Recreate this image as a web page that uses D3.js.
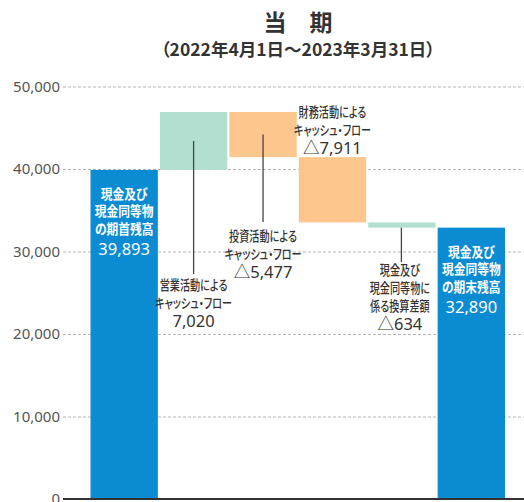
<!DOCTYPE html>
<html>
<head>
<meta charset="utf-8">
<script src="https://cdn.jsdelivr.net/npm/d3@7"></script>
<style>
  body { margin: 0; background: #fff; }
  svg { display: block; font-family: "Noto Sans CJK JP", "Noto Sans", sans-serif; }
</style>
</head>
<body>
<div id="chart"></div>
<script>
// dades
const categories = ["期首残高", "営業活動", "投資活動", "財務活動", "換算差額", "期末残高"];
const values = [39893, 7020, -5477, -7911, -634, 32890];
const valueLabels = ["39,893", "7,020", "△5,477", "△7,911", "△634", "32,890"];
const barLabels = [
  ["現金及び", "現金同等物", "の期首残高"],
  ["営業活動による", "キャッシュ・フロー"],
  ["投資活動による", "キャッシュ・フロー"],
  ["財務活動による", "キャッシュ・フロー"],
  ["現金及び", "現金同等物に", "係る換算差額"],
  ["現金及び", "現金同等物", "の期末残高"]
];
const kinds = ["total", "delta", "delta", "delta", "delta", "total"];
const yTicks = [0, 10000, 20000, 30000, 40000, 50000];

const W = 524, H = 502;
const colors = { total: "#0a8bd2", up: "#b3dfd0", down: "#fcc68c" };

const svg = d3.select("#chart").append("svg")
  .attr("width", W).attr("height", H);

// escales
const y = d3.scaleLinear().domain([0, 50000]).range([499, 86.5]);
const x = d3.scaleBand().domain(categories).range([90.5, 505]).paddingInner(0.03).paddingOuter(0);

// cascada: inici i final de cada barra
let running = 0;
const bars = categories.map((c, i) => {
  let y0, y1;
  if (kinds[i] === "total") { y0 = 0; y1 = values[i]; running = values[i]; }
  else { y0 = running; y1 = running + values[i]; running = y1; }
  return { cat: c, i: i, y0: y0, y1: y1, v: values[i], kind: kinds[i] };
});

// títol
svg.append("text")
  .attr("x", 298).attr("y", 31)
  .attr("text-anchor", "middle")
  .style("font-size", "23px").style("font-weight", "700").style("fill", "#333")
  .text("当　期");
svg.append("text")
  .attr("x", 298).attr("y", 56)
  .attr("text-anchor", "middle")
  .style("font-size", "17.5px").style("font-weight", "700").style("fill", "#333")
  .style("font-feature-settings", "'palt'")
  .text("（2022年4月1日～2023年3月31日）");

// eix Y amb línies de graella
const axisX = 63;
const yAxis = svg.append("g")
  .attr("transform", `translate(${axisX},0)`)
  .call(d3.axisLeft(y).tickValues(yTicks).tickFormat(d3.format(",")).tickSize(-(W - axisX)).tickPadding(3));
yAxis.select(".domain").remove();
yAxis.selectAll(".tick line")
  .attr("stroke", "#b5b5b5")
  .attr("stroke-dasharray", "3,2");
yAxis.selectAll(".tick text")
  .style("font-family", "'Noto Sans', sans-serif")
  .style("font-size", "15px")
  .style("fill", "#555");

// barres
svg.selectAll(".bar")
  .data(bars)
  .enter()
  .append("rect")
    .attr("class", "bar")
    .attr("x", d => x(d.cat))
    .attr("width", x.bandwidth())
    .attr("y", d => y(Math.max(d.y0, d.y1)))
    .attr("height", d => Math.abs(y(d.y0) - y(d.y1)))
    .attr("fill", d => d.kind === "total" ? colors.total : (d.v > 0 || d.i === 4 ? colors.up : colors.down));

// línia base
svg.append("line")
  .attr("x1", axisX).attr("x2", W)
  .attr("y1", y(0)).attr("y2", y(0))
  .attr("stroke", "#333").attr("stroke-width", 2);

// etiquetes (text condensat com a l'original)
function label(lines, num, cx, baseY, fill, inBar) {
  const g = svg.append("g").style("fill", fill);
  const step = inBar ? 17.5 : 18;
  lines.forEach((t, k) => {
    const txt = g.append("text")
      .attr("x", cx).attr("y", baseY + k * step)
      .attr("text-anchor", "middle")
      .style("font-size", "13.5px")
      .style("font-weight", inBar ? "700" : "500")
      .style("font-feature-settings", "'palt'")
      .text(t);
    const w = txt.node().getComputedTextLength();
    txt.attr("textLength", w * (inBar ? 0.87 : 0.75)).attr("lengthAdjust", "spacingAndGlyphs");
  });
  g.append("text")
    .attr("x", cx).attr("y", baseY + (lines.length - 1) * step + (inBar ? 21 : 18.5))
    .attr("text-anchor", "middle")
    .style("font-family", "'Noto Sans', 'Noto Sans CJK JP', sans-serif")
    .style("font-size", "16.5px")
    .style("font-weight", "400")
    .text(num);
}

function leader(cx, yA, yB) {
  svg.append("line")
    .attr("x1", cx).attr("x2", cx)
    .attr("y1", yA).attr("y2", yB)
    .attr("stroke", "#444").attr("stroke-width", 1.3);
}

const cx = d => x(d.cat) + x.bandwidth() / 2;
const mid = d => (y(d.y0) + y(d.y1)) / 2;

// barres de total (text blanc dins la barra)
[bars[0], bars[5]].forEach(d => {
  label(barLabels[d.i], valueLabels[d.i], cx(d), y(d.y1) + 29, "#fff", true);
});

// activitats d'explotació
leader(cx(bars[1]), mid(bars[1]), 274);
label(barLabels[1], valueLabels[1], cx(bars[1]), 290, "#333", false);

// activitats d'inversió
leader(cx(bars[2]), mid(bars[2]), 222);
label(barLabels[2], valueLabels[2], cx(bars[2]), 241, "#333", false);

// activitats de finançament (etiqueta a sobre)
label(barLabels[3], valueLabels[3], cx(bars[3]), 117, "#333", false);

// diferència de conversió
leader(cx(bars[4]) - 0.5, y(bars[4].y1), 262);
label(barLabels[4], valueLabels[4], cx(bars[4]) - 2, 275, "#333", false);
</script>
</body>
</html>
